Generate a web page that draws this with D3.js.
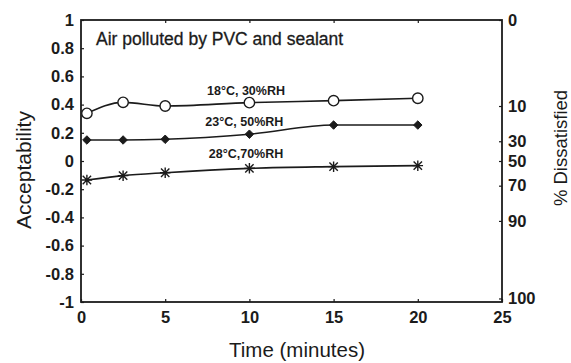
<!DOCTYPE html>
<html>
<head>
<meta charset="utf-8">
<script src="https://cdn.jsdelivr.net/npm/d3@7"></script>
<style>
  html, body { margin: 0; padding: 0; background: #fff; }
  svg { display: block; font-family: "Liberation Sans", Arial, Helvetica, sans-serif; }
</style>
</head>
<body>
<svg id="chart" width="571" height="363"></svg>
<script>
// Sampling times (minutes)
const times = [0.35, 2.5, 5, 10, 15, 20];

// Acceptability votes for each climate condition
const series18 = [0.338, 0.416, 0.39, 0.414, 0.428, 0.445];
const series23 = [0.149, 0.149, 0.154, 0.19, 0.255, 0.255];
const series28 = [-0.135, -0.104, -0.083, -0.052, -0.04, -0.033];

const seriesNames = ["18°C, 30%RH", "23°C, 50%RH", "28°C,70%RH"];
const seriesMarkers = ["circle", "diamond", "star"];
const labelTimes = [9.8, 9.7, 9.8];
const labelValues = [0.465, 0.25, 0.02];

// Axis ticks
const xTicks = [0, 5, 10, 15, 20, 25];
const yTicks = [-1, -0.8, -0.6, -0.4, -0.2, 0, 0.2, 0.4, 0.6, 0.8, 1];
const yTickLabels = ["-1", "-0.8", "-0.6", "-0.4", "-0.2", "0", "0.2", "0.4", "0.6", "0.8", "1"];

// Percentage dissatisfied and the acceptability level each one sits at
const dissatLabels = ["0", "10", "30", "50", "70", "90", "100"];
const dissatAcceptability = [1, 0.39, 0.14, 0, -0.175, -0.425, -0.975];

const svg = d3.select("#chart");
const plotLeft = 81, plotRight = 502, plotTop = 20, plotBottom = 302;

const x = d3.scaleLinear().domain([0, 25]).range([plotLeft, plotRight]);
const y = d3.scaleLinear().domain([-1, 1]).range([plotBottom, plotTop]);

const ink = "#1b1b1b";

// Frame
svg.append("rect")
  .attr("x", plotLeft).attr("y", plotTop)
  .attr("width", plotRight - plotLeft).attr("height", plotBottom - plotTop)
  .attr("fill", "none").attr("stroke", ink).attr("stroke-width", 1.8);

function styleAxis(g, size) {
  g.select(".domain").remove();
  g.selectAll(".tick line").attr("stroke", ink).attr("stroke-width", 1.2);
  g.selectAll(".tick text")
    .attr("fill", ink)
    .style("font-size", size + "px")
    .style("font-weight", "bold")
    .style("font-family", '"Liberation Sans", Arial, sans-serif');
}

// Left: acceptability
svg.append("g")
  .attr("transform", `translate(${plotLeft},0)`)
  .call(d3.axisLeft(y).tickValues(yTicks)
    .tickFormat((d, i) => yTickLabels[i])
    .tickSize(-3).tickPadding(7))
  .call(g => styleAxis(g, 16.5));

// Bottom: time
svg.append("g")
  .attr("transform", `translate(0,${plotBottom})`)
  .call(d3.axisBottom(x).tickValues(xTicks)
    .tickFormat(d => String(d))
    .tickSize(-3).tickPadding(9))
  .call(g => styleAxis(g, 16.5));

// Top: tick marks only
svg.append("g")
  .attr("transform", `translate(0,${plotTop})`)
  .call(d3.axisTop(x).tickValues(xTicks.slice(1, -1))
    .tickFormat("").tickSize(-3))
  .call(g => styleAxis(g, 16.5));

// Right: percentage dissatisfied
svg.append("g")
  .attr("transform", `translate(${plotRight},0)`)
  .call(d3.axisRight(y).tickValues(dissatAcceptability)
    .tickFormat((d, i) => dissatLabels[i])
    .tickSize(-3).tickPadding(6))
  .call(g => styleAxis(g, 16.5));

// Axis titles
svg.append("text")
  .attr("x", 297).attr("y", 357)
  .attr("text-anchor", "middle")
  .attr("fill", ink)
  .style("font-size", "20.5px")
  .text("Time (minutes)");

svg.append("text")
  .attr("transform", "translate(31,170) rotate(-90)")
  .attr("text-anchor", "middle")
  .attr("fill", ink)
  .style("font-size", "21px")
  .text("Acceptability");

svg.append("text")
  .attr("transform", "translate(567,148) rotate(-90)")
  .attr("text-anchor", "middle")
  .attr("fill", ink)
  .style("font-size", "18.5px")
  .text("% Dissatisfied");

// In-plot title
svg.append("text")
  .attr("x", 96).attr("y", 45)
  .attr("fill", ink)
  .style("font-size", "17.5px")
  .style("font-weight", 500)
  .style("stroke", ink).style("stroke-width", 0.3)
  .text("Air polluted by PVC and sealant");

// Series
const allSeries = [series18, series23, series28];
const line = d3.line()
  .x(d => x(d[0]))
  .y(d => y(d[1]))
  .curve(d3.curveMonotoneX);

// Eight-spoke star: plus combined with a cross
const starSymbol = {
  draw(ctx, size) {
    const r = Math.sqrt(size) / 2;
    const s = r * 0.8;
    ctx.moveTo(-r, 0); ctx.lineTo(r, 0);
    ctx.moveTo(0, -r); ctx.lineTo(0, r);
    ctx.moveTo(-s, -s); ctx.lineTo(s, s);
    ctx.moveTo(-s, s); ctx.lineTo(s, -s);
  }
};

// Square standing on a corner (equal width and height)
const squareDiamond = {
  draw(ctx, size) {
    const r = Math.sqrt(size / 2);
    ctx.moveTo(0, -r); ctx.lineTo(r, 0); ctx.lineTo(0, r); ctx.lineTo(-r, 0);
    ctx.closePath();
  }
};

allSeries.forEach((vals, si) => {
  const pts = times.map((t, i) => [t, vals[i]]);
  const g = svg.append("g");
  g.append("path")
    .datum(pts)
    .attr("d", line)
    .attr("fill", "none")
    .attr("stroke", ink)
    .attr("stroke-width", 1.6);

  const kind = seriesMarkers[si];
  const m = g.selectAll(".m").data(pts).join("path")
    .attr("transform", d => `translate(${x(d[0])},${y(d[1])})`);
  if (kind === "circle") {
    m.attr("d", d3.symbol(d3.symbolCircle, 85)())
      .attr("fill", "#fff").attr("stroke", ink).attr("stroke-width", 1.4);
  } else if (kind === "diamond") {
    m.attr("d", d3.symbol(squareDiamond, 36)())
      .attr("fill", ink).attr("stroke", ink).attr("stroke-width", 1);
  } else {
    m.attr("d", d3.symbol(starSymbol, 110)())
      .attr("fill", "none").attr("stroke", ink).attr("stroke-width", 1.4);
  }

  g.append("text")
    .attr("x", x(labelTimes[si]))
    .attr("y", y(labelValues[si]))
    .attr("text-anchor", "middle")
    .attr("fill", ink)
    .style("font-size", "12.5px")
    .style("font-weight", "bold")
    .text(seriesNames[si]);
});
</script>
</body>
</html>
